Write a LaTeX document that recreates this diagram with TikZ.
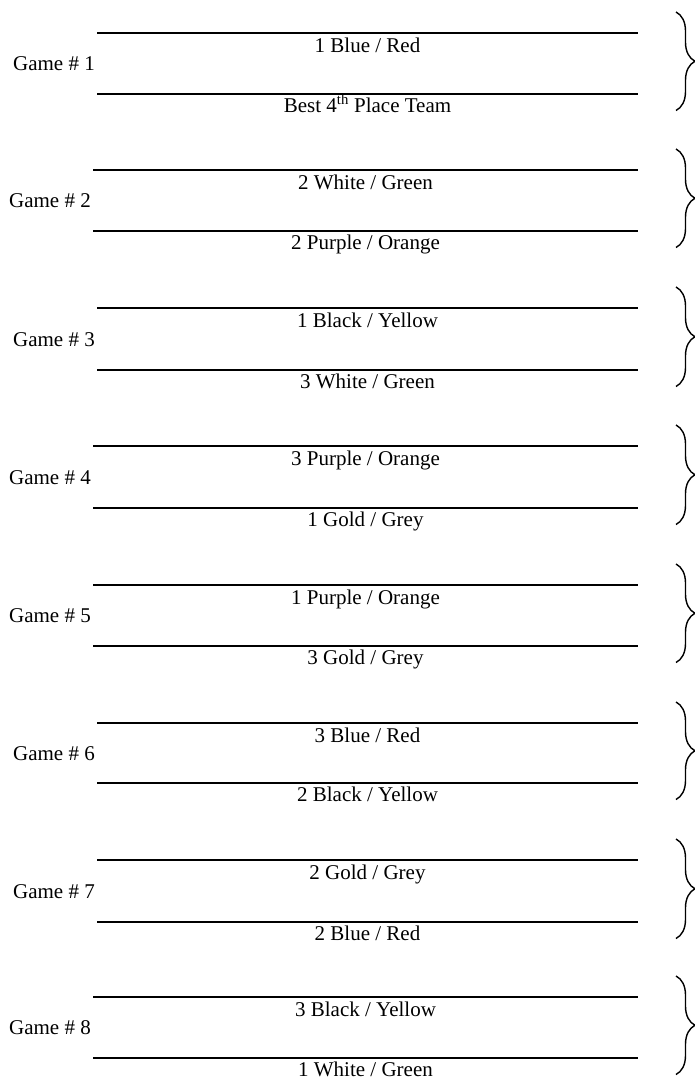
\documentclass[tikz,border=0pt]{standalone}
\usepackage{fontspec}
\setmainfont{Liberation Serif}
\usetikzlibrary{decorations.pathreplacing}
\tikzset{
  rule/.style={line width=2.4bp, black},
  teamtext/.style={font=\fontsize{21bp}{24bp}\selectfont, anchor=base, inner sep=0pt},
  gamelabel/.style={font=\fontsize{21bp}{24bp}\selectfont, anchor=base east, inner sep=0pt},
  bracket/.style={decorate, decoration={brace, amplitude=19bp}, line width=1.4bp},
}
% #1 id, #2 top y, #3 bottom y, #4 left x, #5 top text, #6 bottom text
\newcommand\gamerow[6]{%
  \coordinate (tl#1) at (#4,#2);
  \coordinate (tr#1) at (638,#2);
  \coordinate (bl#1) at (#4,#3);
  \coordinate (br#1) at (638,#3);
  \draw[rule] (tl#1) -- (tr#1);
  \draw[rule] (bl#1) -- (br#1);
  \node[teamtext] (top#1) at ({(#4+638)/2},{#2+19}) {#5};
  \node[teamtext] (bot#1) at ({(#4+638)/2},{#3+18}) {#6};
  \node[gamelabel] (game#1) at ({#4-2},{(#2+#3)/2+7}) {Game \# #1};
  \coordinate (bt#1) at (676,{#2-21});
  \coordinate (bb#1) at (676,{#3+16.5});
  \draw[bracket] (bt#1) -- (bb#1);
}
\begin{document}
\begin{tikzpicture}[x=1bp,y=-1bp]
  \useasboundingbox (0,0) rectangle (695,1080);
  \gamerow{1}{33}{94}{97}{1 Blue / Red}{Best 4\textsuperscript{th} Place Team}
  \gamerow{2}{170}{231}{93}{2 White / Green}{2 Purple / Orange}
  \gamerow{3}{308}{370}{97}{1 Black / Yellow}{3 White / Green}
  \gamerow{4}{446}{508}{93}{3 Purple / Orange}{1 Gold / Grey}
  \gamerow{5}{585}{646}{93}{1 Purple / Orange}{3 Gold / Grey}
  \gamerow{6}{723}{783}{97}{3 Blue / Red}{2 Black / Yellow}
  \gamerow{7}{860}{922}{97}{2 Gold / Grey}{2 Blue / Red}
  \gamerow{8}{997}{1058}{93}{3 Black / Yellow}{1 White / Green}
\end{tikzpicture}
\end{document}
